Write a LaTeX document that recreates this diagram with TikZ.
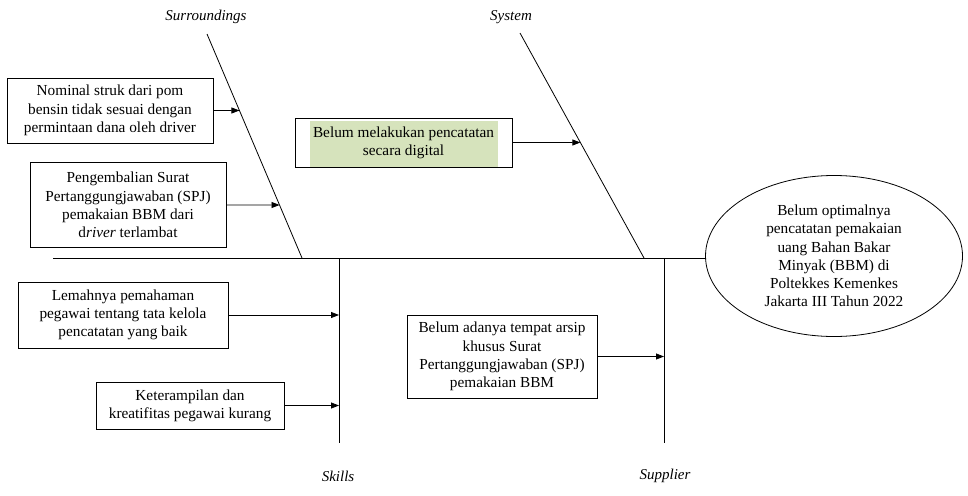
\documentclass[tikz,border=0pt]{standalone}
\usepackage{fontspec}
\setmainfont{Liberation Serif}
\usetikzlibrary{arrows.meta,shapes.geometric,calc}
\begin{document}
\begin{tikzpicture}[x=1pt,y=-1pt,
  line width=0.8pt,
  txt/.style={font=\fontsize{15.3}{18.3}\selectfont, align=center, inner sep=0pt},
  cbox/.style={txt, draw, minimum width=#1, outer sep=0pt},
  lbl/.style={font=\fontsize{15}{17}\selectfont\itshape, inner sep=0pt},
  arr/.style={-{Triangle[length=8pt,width=6pt]}},
]
\useasboundingbox (0,0) rectangle (968,495);
\fill[white] (0,0) rectangle (968,495);
% spine and bones
\coordinate (sp1) at (53,258);
\coordinate (sp2) at (706,258);
\coordinate (sur1) at (207,34);
\coordinate (sur2) at (302,258);
\coordinate (sys1) at (520,33);
\coordinate (sys2) at (644,258);
\coordinate (sk1) at (339,258);
\coordinate (sk2) at (339,443);
\coordinate (su1) at (664,258);
\coordinate (su2) at (664,443);
\draw (sp1) -- (sp2);
\draw (sur1) -- (sur2);
\draw (sys1) -- (sys2);
\draw (sk1) -- (sk2);
\draw (su1) -- (su2);
% labels
\node[lbl] (lsur) at (206,17) {Surroundings};
\node[lbl] (lsys) at (511,17) {System};
\node[lbl] (lsk) at (338,476) {Skills};
\node[lbl] (lsu) at (665,476) {Supplier};
% effect
\node[draw, ellipse, minimum width=257, minimum height=161, inner sep=0pt, txt] (eff) at (834,256)
  {Belum optimalnya\\pencatatan pemakaian\\uang Bahan Bakar\\Minyak (BBM) di\\Poltekkes Kemenkes\\Jakarta III Tahun 2022};
% cause boxes
\node[cbox=206, minimum height=65] (n1) at (110,110.5)
  {Nominal struk dari pom\\bensin tidak sesuai dengan\\permintaan dana oleh driver};
\node[cbox=196, minimum height=85] (n2) at (128,205)
  {Pengembalian Surat\\Pertanggungjawaban (SPJ)\\pemakaian BBM dari\\d\textit{river} terlambat};
\draw (295,118) rectangle (512,167);
\fill[fill={rgb,255:red,214;green,227;blue,188}] (310,121) rectangle (498,166.5);
\node[txt, minimum width=217, minimum height=49] (n3) at (403.5,142.5)
  {Belum melakukan pencatatan\\secara digital};
\node[cbox=210, minimum height=66] (n4) at (123,315)
  {Lemahnya pemahaman\\pegawai tentang tata kelola\\pencatatan yang baik};
\node[cbox=188, minimum height=47] (n5) at (190,405.5)
  {Keterampilan dan\\kreatifitas pegawai kurang};
\node[cbox=190, minimum height=83] (n6) at (502,356.5)
  {Belum adanya tempat arsip\\khusus Surat\\Pertanggungjawaban (SPJ)\\pemakaian BBM};
% arrow targets
\coordinate (t1) at ($(sur1)!{(110.5-34)/224}!(sur2)$);
\coordinate (t2) at ($(sur1)!{(205-34)/224}!(sur2)$);
\coordinate (t3) at ($(sys1)!{(142.5-33)/225}!(sys2)$);
\draw[arr] (n1.east) -- (t1);
\draw[arr] (n2.east) -- (t2);
\draw[arr] (n3.east) -- (t3);
\draw[arr] (n4.east) -- (n4.east -| sk1);
\draw[arr] (n5.east) -- (n5.east -| sk1);
\draw[arr] (n6.east) -- (n6.east -| su1);
\end{tikzpicture}
\end{document}
